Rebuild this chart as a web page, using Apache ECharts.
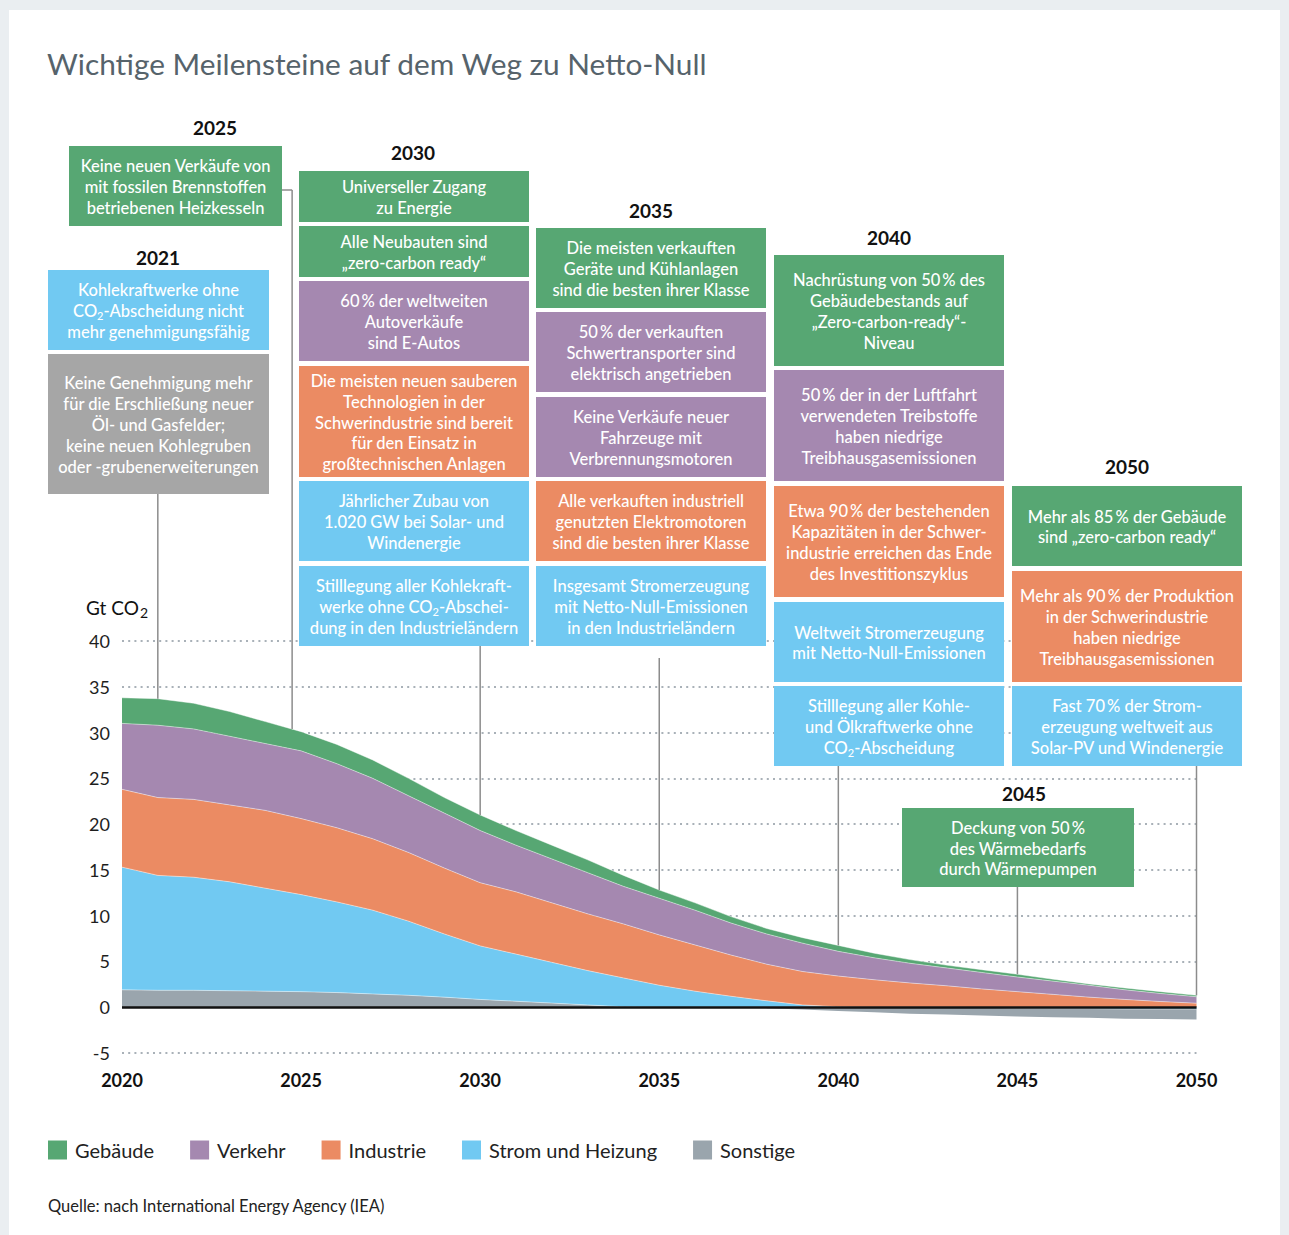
<!DOCTYPE html>
<html lang="de">
<head>
<meta charset="utf-8">
<title>Wichtige Meilensteine auf dem Weg zu Netto-Null</title>
<script src="https://cdn.jsdelivr.net/npm/echarts@6.0.0/dist/echarts.min.js"></script>
<style>
  html, body { margin: 0; padding: 0; background: #eaeef1; }
  .page { position: relative; width: 1289px; height: 1235px; overflow: hidden; }
  .card { position: absolute; left: 9px; top: 10px; width: 1271px; height: 1225px; background: #fff; }
  #chart { position: absolute; left: 0; top: 0; width: 1289px; height: 1235px; }
</style>
</head>
<body>
<div class="page">
  <div class="card"></div>
  <div id="chart"></div>
</div>
<script>
// Emissionen in Gt CO2 je Sektor
const years = [2020, 2021, 2022, 2023, 2024, 2025, 2026, 2027, 2028, 2029,
  2030, 2031, 2032, 2033, 2034, 2035, 2036, 2037, 2038, 2039,
  2040, 2041, 2042, 2043, 2044, 2045, 2046, 2047, 2048, 2049, 2050]
const sonstige = [1.9, 1.85, 1.85, 1.8, 1.75, 1.7, 1.6, 1.45, 1.3, 1.1,
  0.85, 0.65, 0.45, 0.25, 0.05, 0, 0, 0, -0.1, -0.25,
  -0.4, -0.55, -0.7, -0.8, -0.85, -0.9, -0.95, -1.0, -1.05, -1.1, -1.15]
const strom = [13.4, 12.55, 12.35, 11.9, 11.25, 10.6, 9.9, 9.15, 8.1, 6.9,
  5.85, 5.15, 4.45, 3.75, 3.15, 2.4, 1.75, 1.2, 0.7, 0.25,
  0.05, 0, 0, 0, -0.05, -0.1, -0.15, -0.15, -0.2, -0.2, -0.2]
const industrie = [8.5, 8.5, 8.5, 8.4, 8.5, 8.3, 8.1, 7.8, 7.5, 7.2,
  6.9, 6.8, 6.5, 6.2, 5.9, 5.5, 5.05, 4.5, 4.0, 3.65,
  3.35, 3.0, 2.65, 2.35, 2.0, 1.7, 1.4, 1.1, 0.85, 0.62, 0.44]
const verkehr = [7.2, 7.9, 7.7, 7.5, 7.3, 7.4, 7.0, 6.6, 6.2, 6.0,
  5.7, 5.1, 4.8, 4.5, 4.1, 4.0, 3.8, 3.5, 3.3, 3.1,
  2.7, 2.4, 2.15, 1.95, 1.8, 1.6, 1.45, 1.3, 1.05, 0.88, 0.71]
const gebaeude = [2.8, 2.9, 2.8, 2.7, 2.4, 2.1, 2.1, 2.0, 1.9, 1.7,
  1.7, 1.6, 1.5, 1.4, 1.2, 0.9, 0.8, 0.7, 0.6, 0.6,
  0.65, 0.5, 0.4, 0.3, 0.3, 0.3, 0.2, 0.15, 0.2, 0.2, 0.15]

const legendNames = ['Gebäude', 'Verkehr', 'Industrie', 'Strom und Heizung', 'Sonstige']

const GREEN = '#57a773'
const PURPLE = '#a588b0'
const ORANGE = '#eb8b63'
const BLUE = '#71c9f2'
const GREY = '#9aa5ad'
const BOXGREY = '#a6a6a6'
const FONT = 'Lato, "Noto Sans", sans-serif'

// Meilenstein-Kästen: x, y, Breite, Höhe, Farbe, Text
const boxes = [
  [48, 270, 221, 80, BLUE, 'Kohlekraftwerke ohne\nCO{s|2}-Abscheidung nicht\nmehr genehmigungsfähig'],
  [48, 354, 221, 140, BOXGREY, 'Keine Genehmigung mehr\nfür die Erschließung neuer\nÖl- und Gasfelder;\nkeine neuen Kohlegruben\noder -grubenerweiterungen'],
  [69, 146, 213, 80, GREEN, 'Keine neuen Verkäufe von\nmit fossilen Brennstoffen\nbetriebenen Heizkesseln'],

  [299, 171, 230, 51, GREEN, 'Universeller Zugang\nzu Energie'],
  [299, 226, 230, 51, GREEN, 'Alle Neubauten sind\n„zero-carbon ready“'],
  [299, 281, 230, 80, PURPLE, '60\u2009% der weltweiten\nAutoverkäufe\nsind E-Autos'],
  [299, 366, 230, 111, ORANGE, 'Die meisten neuen sauberen\nTechnologien in der\nSchwerindustrie sind bereit\nfür den Einsatz in\ngroßtechnischen Anlagen'],
  [299, 481, 230, 80, BLUE, 'Jährlicher Zubau von\n1.020 GW bei Solar- und\nWindenergie'],
  [299, 566, 230, 80, BLUE, 'Stilllegung aller Kohlekraft-\nwerke ohne CO{s|2}-Abschei-\ndung in den Industrieländern'],

  [536, 228, 230, 80, GREEN, 'Die meisten verkauften\nGeräte und Kühlanlagen\nsind die besten ihrer Klasse'],
  [536, 312, 230, 80, PURPLE, '50\u2009% der verkauften\nSchwertransporter sind\nelektrisch angetrieben'],
  [536, 397, 230, 80, PURPLE, 'Keine Verkäufe neuer\nFahrzeuge mit\nVerbrennungsmotoren'],
  [536, 481, 230, 80, ORANGE, 'Alle verkauften industriell\ngenutzten Elektromotoren\nsind die besten ihrer Klasse'],
  [536, 566, 230, 80, BLUE, 'Insgesamt Stromerzeugung\nmit Netto-Null-Emissionen\nin den Industrieländern'],

  [774, 255, 230, 111, GREEN, 'Nachrüstung von 50\u2009% des\nGebäudebestands auf\n„Zero-carbon-ready“-\nNiveau'],
  [774, 370, 230, 111, PURPLE, '50\u2009% der in der Luftfahrt\nverwendeten Treibstoffe\nhaben niedrige\nTreibhausgasemissionen'],
  [774, 486, 230, 111, ORANGE, 'Etwa 90\u2009% der bestehenden\nKapazitäten in der Schwer-\nindustrie erreichen das Ende\ndes Investitionszyklus'],
  [774, 602, 230, 80, BLUE, 'Weltweit Stromerzeugung\nmit Netto-Null-Emissionen'],
  [774, 686, 230, 80, BLUE, 'Stilllegung aller Kohle-\nund Ölkraftwerke ohne\nCO{s|2}-Abscheidung'],

  [1012, 486, 230, 80, GREEN, 'Mehr als 85\u2009% der Gebäude\nsind „zero-carbon ready“'],
  [1012, 571, 230, 111, ORANGE, 'Mehr als 90\u2009% der Produktion\nin der Schwerindustrie\nhaben niedrige\nTreibhausgasemissionen'],
  [1012, 686, 230, 80, BLUE, 'Fast 70\u2009% der Strom-\nerzeugung weltweit aus\nSolar-PV und Windenergie'],

  [902, 808, 232, 79, GREEN, 'Deckung von 50\u2009%\ndes Wärmebedarfs\ndurch Wärmepumpen'],
]

// Jahreszahlen über den Spalten: x-Mitte, y-Mitte, Text
const headings = [
  [215, 127, '2025'], [158, 257, '2021'], [413, 152, '2030'], [651, 210, '2035'],
  [889, 237, '2040'], [1127, 466, '2050'], [1024, 793, '2045'],
]

// Verbindungslinien: Jahr auf der Achse, Start-y am Kasten (2025-Linie läuft in der Lücke zwischen den Kästen)
const leaders = [
  { year: 2021, from: 494 },
  { year: 2024.75, from: 190, elbow: 282 },
  { year: 2030, from: 646 },
  { year: 2035, from: 658 },
  { year: 2040, from: 766 },
  { year: 2045, from: 887 },
  { year: 2050, from: 766 },
]

const areaSeries = (name, values, color, extra) => Object.assign({
  name,
  type: 'line',
  stack: 'total',
  data: values,
  symbol: 'none',
  silent: true,
  lineStyle: { width: 0.8, color: 'rgba(255,255,255,0.55)' },
  areaStyle: { color, opacity: 1 },
  itemStyle: { color },
  emphasis: { disabled: true },
}, extra || {})

// Sonstige: positiver Teil ganz unten, negativer Teil unter "Strom" (wie im Original)
const sonstigePos = sonstige.map(v => Math.max(v, 0))
const sonstigeNeg = sonstige.map(v => (v < 0 ? v : null))

const chart = echarts.init(document.getElementById('chart'), null, { renderer: 'svg' })

const option = {
  animation: false,
  textStyle: { fontFamily: FONT },
  title: {
    text: 'Wichtige Meilensteine auf dem Weg zu Netto-Null',
    left: 42,
    top: 43,
    textStyle: { fontFamily: FONT, fontSize: 29.8, fontWeight: 'normal', color: '#56636b' },
  },
  grid: { left: 122, right: 92.5, top: 641, bottom: 182 },
  legend: {
    data: legendNames,
    left: 48,
    top: 1140,
    padding: 0,
    icon: 'rect',
    itemWidth: 19,
    itemHeight: 19,
    itemGap: 36,
    selectedMode: false,
    textStyle: { fontFamily: FONT, fontSize: 20, color: '#222', padding: [0, 0, 0, 3] },
  },
  xAxis: {
    type: 'category',
    data: years,
    boundaryGap: false,
    axisLine: { show: false },
    axisTick: { show: false },
    splitLine: { show: false },
    axisLabel: {
      interval: 4,
      margin: 18,
      fontSize: 18,
      fontWeight: 'bold',
      color: '#111',
      fontFamily: FONT,
    },
  },
  yAxis: {
    type: 'value',
    min: -5,
    max: 40,
    interval: 5,
    axisLine: { show: false },
    axisTick: { show: false },
    axisLabel: { margin: 12, fontSize: 18, color: '#1e1e1e', fontFamily: FONT },
    splitLine: {
      lineStyle: { color: '#a9b1b8', width: 2, type: [2, 4.2] },
    },
  },
  series: [
    areaSeries('Sonstige', sonstigePos, GREY),
    areaSeries('Strom und Heizung', strom, BLUE),
    areaSeries('Industrie', industrie, ORANGE),
    areaSeries('Verkehr', verkehr, PURPLE),
    areaSeries('Gebäude', gebaeude, GREEN),
    areaSeries('Sonstige', sonstigeNeg, GREY, {
      lineStyle: { width: 0 },
      markLine: {
        silent: true,
        symbol: ['none', 'none'],
        label: { show: false },
        lineStyle: { color: '#111', width: 2.5, type: 'solid' },
        emphasis: { disabled: true },
        data: [{ yAxis: 0 }],
      },
    }),
  ],
}

chart.setOption(option)

// Oberkante des Stapels (positive Anteile) an einem Index
const stackTop = (i) =>
  Math.max(sonstige[i], 0) + Math.max(strom[i], 0) + industrie[i] + verkehr[i] + gebaeude[i]

// Pixelposition der Stapel-Oberkante an einem (auch gebrochenen) Jahr
const topPixel = (year) => {
  const pos = year - years[0]
  const i = Math.min(Math.floor(pos), years.length - 2)
  const f = pos - i
  const a = chart.convertToPixel({ gridIndex: 0 }, [i, stackTop(i)])
  const b = chart.convertToPixel({ gridIndex: 0 }, [i + 1, stackTop(i + 1)])
  return [a[0] + (b[0] - a[0]) * f, a[1] + (b[1] - a[1]) * f]
}

const graphics = []

boxes.forEach(([x, y, w, h, color, text]) => {
  graphics.push({
    type: 'group',
    x, y,
    z: 100,
    silent: true,
    children: [
      { type: 'rect', shape: { x: 0, y: 0, width: w, height: h }, style: { fill: color } },
      {
        type: 'text',
        x: w / 2,
        y: h / 2 + 1,
        style: {
          text,
          align: 'center',
          verticalAlign: 'middle',
          fill: '#fff',
          fontFamily: FONT,
          fontSize: 16.5,
          fontWeight: 500,
          lineHeight: 20.8,
          rich: {
            s: { fontSize: 11, fontFamily: FONT, fontWeight: 500, fill: '#fff', verticalAlign: 'bottom', lineHeight: 20.8, padding: [6, 0, 0, 0] },
          },
        },
      },
    ],
  })
})

headings.forEach(([x, y, text]) => {
  graphics.push({
    type: 'text', x, y, z: 100, silent: true,
    style: { text, align: 'center', verticalAlign: 'middle', fill: '#111', fontFamily: FONT, fontSize: 19, fontWeight: 'bold' },
  })
})

leaders.forEach(l => {
  const [px, py] = topPixel(l.year)
  const line = (x1, y1, x2, y2) => ({
    type: 'line', z: 90, silent: true,
    shape: { x1, y1, x2, y2 },
    style: { stroke: '#8c8c8c', lineWidth: 1.5 },
  })
  if (l.elbow) graphics.push(line(l.elbow, l.from, px, l.from))
  graphics.push(line(px, l.from, px, py))
})

// Achsentitel und Quelle
graphics.push({
  type: 'text', x: 86, y: 607, z: 100, silent: true,
  style: {
    text: 'Gt CO{s|2}', align: 'left', verticalAlign: 'middle', fill: '#111',
    fontFamily: FONT, fontSize: 19,
    rich: { s: { fontSize: 14, fontFamily: FONT, fill: '#111', verticalAlign: 'bottom', padding: [10, 0, 0, 1] } },
  },
})
graphics.push({
  type: 'text', x: 48, y: 1206, z: 100, silent: true,
  style: { text: 'Quelle: nach International Energy Agency (IEA)', align: 'left', verticalAlign: 'middle', fill: '#222', fontFamily: FONT, fontSize: 16.5 },
})

chart.setOption({ graphic: graphics })
</script>
</body>
</html>
